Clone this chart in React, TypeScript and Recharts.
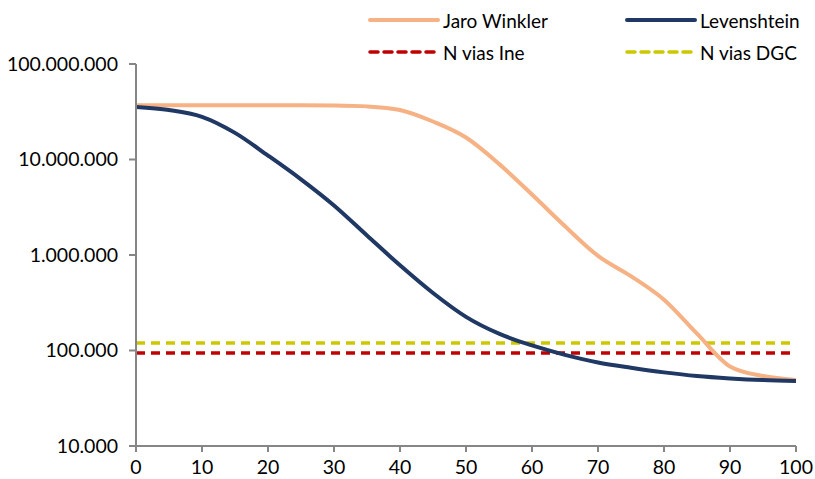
import React from "react";
import { LineChart, Line, XAxis, YAxis } from "recharts";

const thresholds = [0, 5, 10, 15, 20, 25, 30, 35, 40, 45, 50, 55, 60, 65, 70, 75, 80, 85, 90, 95, 100];
const jaroWinkler = [
  37000000, 37000000, 37000000, 37000000, 37000000, 37000000, 36800000, 36000000, 33000000, 25000000,
  17000000, 9000000, 4300000, 2000000, 980000, 600000, 340000, 150000, 68000, 54000, 49000,
];
const levenshtein = [
  35500000, 33000000, 28000000, 19000000, 11000000, 6200000, 3300000, 1600000, 780000, 400000,
  225000, 150000, 113000, 90000, 75000, 66000, 59000, 54000, 51000, 49000, 48000,
];
const viasIne = 94000;
const viasDgc = 120000;
const xTicks = [0, 10, 20, 30, 40, 50, 60, 70, 80, 90, 100];
const yTicks = [10000, 100000, 1000000, 10000000, 100000000];

const data = thresholds.map((t, i) => ({ t, jaro: jaroWinkler[i], lev: levenshtein[i] }));
const ineData = [{ t: 0, ine: viasIne }, { t: 100, ine: viasIne }];
const dgcData = [{ t: 0, dgc: viasDgc }, { t: 100, dgc: viasDgc }];

const FONT = "Lato, 'Open Sans', sans-serif";
const colors = { jaro: "#F6B184", lev: "#1F3864", ine: "#C00000", dgc: "#CCC800" };

const fmt = (v: number) => String(Math.round(v)).replace(/\B(?=(\d{3})+(?!\d))/g, ".");

const legendItems = [
  { label: "Jaro Winkler", color: colors.jaro, dash: false, left: 368, top: 10 },
  { label: "Levenshtein", color: colors.lev, dash: false, left: 625, top: 10 },
  { label: "N vias Ine", color: colors.ine, dash: true, left: 368, top: 42 },
  { label: "N vias DGC", color: colors.dgc, dash: true, left: 625, top: 42 },
];

function ChartLegend() {
  return (
    <div style={{ position: "absolute", left: 0, top: 0, width: 815, height: 60 }}>
      {legendItems.map((it) => (
        <div
          key={it.label}
          style={{ position: "absolute", left: it.left, top: it.top, display: "flex", alignItems: "center", height: 20 }}
        >
          <svg width={72} height={8}>
            <line
              x1={2}
              y1={4}
              x2={70}
              y2={4}
              stroke={it.color}
              strokeWidth={it.dash ? 3.5 : 4}
              strokeDasharray={it.dash ? "8 6" : undefined}
              strokeLinecap="round"
            />
          </svg>
          <span style={{ marginLeft: 3, fontFamily: FONT, fontSize: 19, color: "#000" }}>{it.label}</span>
        </div>
      ))}
    </div>
  );
}

export default function App() {
  return (
    <div style={{ position: "absolute", left: 0, top: 0, width: 815, height: 479, background: "#fff" }}>
      <ChartLegend />
      <LineChart width={815} height={479} margin={{ top: 64, right: 19, bottom: 0, left: 0 }}>
        <XAxis
          dataKey="t"
          type="number"
          domain={[0, 100]}
          ticks={xTicks}
          allowDuplicatedCategory={false}
          axisLine={{ stroke: "#868686", strokeWidth: 2 }}
          tickLine={{ stroke: "#868686", strokeWidth: 2 }}
          tickSize={6}
          tickMargin={8}
          height={33}
          tick={{ fill: "#000", fontSize: 19.5, fontFamily: FONT }}
        />
        <YAxis
          scale="log"
          domain={[10000, 100000000]}
          ticks={yTicks}
          allowDataOverflow
          width={136}
          tickFormatter={fmt}
          axisLine={{ stroke: "#868686", strokeWidth: 2 }}
          tickLine={{ stroke: "#868686", strokeWidth: 2 }}
          tickSize={7}
          tickMargin={11}
          tick={{ fill: "#000", fontSize: 19.5, fontFamily: FONT }}
        />
        <Line data={dgcData} dataKey="dgc" stroke={colors.dgc} strokeWidth={3.5} strokeDasharray="9 6" dot={false} isAnimationActive={false} />
        <Line data={ineData} dataKey="ine" stroke={colors.ine} strokeWidth={3.5} strokeDasharray="9 6" dot={false} isAnimationActive={false} />
        <Line data={data} dataKey="jaro" type="monotone" stroke={colors.jaro} strokeWidth={4} dot={false} isAnimationActive={false} />
        <Line data={data} dataKey="lev" type="monotone" stroke={colors.lev} strokeWidth={4} dot={false} isAnimationActive={false} />
      </LineChart>
    </div>
  );
}
